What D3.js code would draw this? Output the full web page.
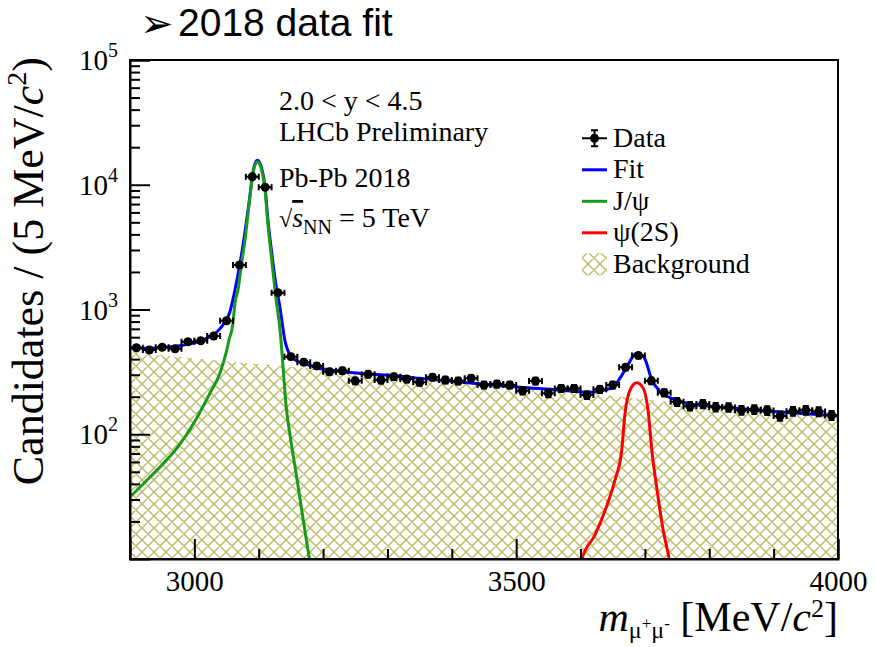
<!DOCTYPE html>
<meta charset="utf-8">
<head>
    <meta charset="UTF-8">
    <title>2018 data fit</title>
    <style>
      body { margin: 0; background: #fff; }
      svg text { font-family: "Liberation Serif", "DejaVu Serif", serif; fill: #000; }
    </style>
</head>
<body>
<script src="https://d3js.org/d3.v7.min.js"></script>

<div id="chart"></div>
<script>

    // bin centres (20 MeV bins) and candidates
    const binCenters = [2910, 2930, 2950, 2970, 2990, 3010, 3030, 3050, 3070, 3090,
                        3110, 3130, 3150, 3170, 3190, 3210, 3230, 3250, 3270, 3290,
                        3310, 3330, 3350, 3370, 3390, 3410, 3430, 3450, 3470, 3490,
                        3510, 3530, 3550, 3570, 3590, 3610, 3630, 3650, 3670, 3690,
                        3710, 3730, 3750, 3770, 3790, 3810, 3830, 3850, 3870, 3890,
                        3910, 3930, 3950, 3970, 3990]
    const counts = [494, 473, 498, 485, 552, 562, 613, 813, 2275, 11600,
                    9550, 1365, 419, 378, 353, 317, 323, 268, 302, 272,
                    289, 277, 261, 286, 272, 267, 281, 248, 253, 248,
                    223, 267, 213, 233, 233, 206, 229, 248, 344, 427,
                    268, 215, 182, 168, 175, 165, 164, 156, 158, 155,
                    140, 153, 156, 152, 142]
    const binHalfWidth = 10

    // fit components, [mass, candidates]
    const fitCurve = [[2900,491],[2920,489],[2940,492],[2960,500],[2980,515],[3000,540],[3020,590],
                      [3035,660],[3045,760],[3055,950],[3062,1350],[3070,2200],[3078,3950],[3085,7200],
                      [3091.6,13100],[3097.8,15700],[3104.6,13500],[3110,9400],[3114.4,5150],[3120.2,2850],
                      [3126.4,1620],[3133,1040],[3140.8,560],[3148.6,432],[3160,385],[3169.3,370],
                      [3195,338],[3247,311],[3299,298],[3350,281],[3433,256],[3506,238],[3568,226],
                      [3599,219],[3615,217],[3640,228],[3651,240],[3661,280],[3672,348],[3687,446],
                      [3698,419],[3711,272],[3724,219],[3749,188],[3780,172],[3800,168],[3850,160],
                      [3900,152],[3950,146],[4000,141]]
    const jpsiCurve = [[2900,31.4],[2925,42.2],[2950,57],[2975,80],[3000,125],[3024.3,214],
                       [3039.9,310],[3050.3,473],[3053.8,570],[3059.6,751],[3063.1,1127],[3067.8,1432],
                       [3073.6,2402],[3078.7,3607],[3084.9,6886],[3091.6,12750],[3097.8,15310],
                       [3104.6,13120],[3109.8,9070],[3114.4,4750],[3120.2,2495],[3126.4,1268],
                       [3133.1,685],[3137.7,352],[3142.4,171],[3150.1,88],[3160.4,40.6],[3170.4,18.7],
                       [3178.9,10],[3185,7]]
    const psi2sCurve = [[3596,7],[3602.3,10],[3622.5,15.6],[3641.2,27.1],[3653.6,43],[3664,74.8],
                        [3669.1,147],[3676.9,226],[3687.3,259],[3697.6,233],[3705.4,147],[3710.7,74.8],
                        [3718.9,35.7],[3728.3,17.1],[3737.6,10],[3742,7]]
    const bkgCurve = [[2900,458],[3000,405],[3100,365],[3200,332],[3300,296],[3400,264],
                      [3500,238],[3600,215],[3700,190],[3800,167],[3900,150],[4000,139]]

    const xMajor = [3000, 3500, 4000]
    const xMinor = [3100, 3200, 3300, 3400, 3600, 3700, 3800, 3900]
    const yMajor = [1e2, 1e3, 1e4, 1e5]
    const yExponents = ["2", "3", "4", "5"]

    const legendItems = [
      {label: "Data", kind: "data"},
      {label: "Fit", kind: "line", color: "#0000ff"},
      {label: "J/ψ", kind: "line", color: "#1a9a1a"},
      {label: "ψ(2S)", kind: "line", color: "#ff0000"},
      {label: "Background", kind: "hatch"}
    ]

    const margin = {top: 60, right: 38, bottom: 88, left: 130},
      width = 876 - margin.left - margin.right,
      height = 647 - margin.top - margin.bottom;

    const root = d3.select("#chart")
      .append("svg")
        .attr("width", 876)
        .attr("height", 647)
    const svg = root.append("g")
        .attr("transform", `translate(${margin.left},${margin.top})`);

    const defs = root.append("defs")
    defs.append("clipPath").attr("id", "plotclip")
      .append("rect").attr("width", width).attr("height", height)
    const pat = defs.append("pattern")
      .attr("id", "hatch")
      .attr("patternUnits", "userSpaceOnUse")
      .attr("width", 12).attr("height", 12)
    pat.append("path")
      .attr("d", "M0,0L12,12M12,0L0,12M-1,11L1,13M11,-1L13,1M-1,1L1,-1M11,13L13,11")
      .attr("stroke", "#9c9c22")
      .attr("stroke-opacity", 0.72)
      .attr("stroke-width", 1.3)

    const x = d3.scaleLinear().domain([2900, 4000]).range([0, width])
    const y = d3.scaleLog().domain([10, 1e5]).range([height, 0])

    const plot = svg.append("g").attr("clip-path", "url(#plotclip)")

    // background (hatched)
    plot.append("path")
      .datum(bkgCurve)
      .attr("fill", "url(#hatch)")
      .attr("d", d3.area()
        .x(d => x(d[0]))
        .y0(height)
        .y1(d => y(d[1]))
        .curve(d3.curveMonotoneX))

    const line = d3.line()
      .x(d => x(d[0]))
      .y(d => y(d[1]))
      .curve(d3.curveMonotoneX)

    plot.append("path").datum(fitCurve)
      .attr("fill", "none").attr("stroke", "#0000ff").attr("stroke-width", 3).attr("d", line)
    plot.append("path").datum(jpsiCurve)
      .attr("fill", "none").attr("stroke", "#1a9a1a").attr("stroke-width", 3).attr("d", line)
    plot.append("path").datum(psi2sCurve)
      .attr("fill", "none").attr("stroke", "#ff0000").attr("stroke-width", 3).attr("d", line)

    // data points with errors
    const pts = binCenters.map((m, i) => ({m: m, n: counts[i]}))
    const cap = 3
    const pg = plot.selectAll(".pt").data(pts).join("g").attr("class", "pt")
    pg.append("path")
      .attr("stroke", "#000").attr("stroke-width", 2).attr("fill", "none")
      .attr("d", d => {
        const cx = x(d.m), cy = y(d.n)
        const x0 = x(d.m - binHalfWidth), x1 = x(d.m + binHalfWidth)
        const e = Math.sqrt(d.n)
        const y0 = y(d.n + e), y1 = y(d.n - e)
        return `M${x0},${cy}H${x1}M${x0},${cy-cap}V${cy+cap}M${x1},${cy-cap}V${cy+cap}` +
               `M${cx},${y0}V${y1}M${cx-cap},${y0}H${cx+cap}M${cx-cap},${y1}H${cx+cap}`
      })
    pg.append("circle")
      .attr("cx", d => x(d.m)).attr("cy", d => y(d.n)).attr("r", 4.5).attr("fill", "#000")

    // axes (ROOT style, ticks inside)
    const xAxis = svg.append("g")
      .attr("transform", `translate(0, ${height})`)
      .call(d3.axisBottom(x).tickValues(xMajor).tickSize(-20).tickPadding(11).tickFormat(d3.format("d")))
    svg.append("g")
      .attr("transform", `translate(0, ${height})`)
      .call(d3.axisBottom(x).tickValues(xMinor).tickSize(-10).tickFormat(""))
      .select(".domain").remove()
    xAxis.selectAll("text").style("font-size", "29px").style("font-family", "Liberation Serif")

    const yAxis = svg.append("g")
      .call(d3.axisLeft(y).tickValues(yMajor).tickSize(-20).tickFormat(""))
    svg.append("g")
      .call(d3.axisLeft(y).tickValues(y.ticks().filter(v => !yMajor.includes(v) && v !== 10)).tickSize(-10).tickFormat(""))
      .select(".domain").remove()
    svg.selectAll(".tick line").attr("stroke-width", 2)
    svg.selectAll(".domain").attr("stroke-width", 2)

    yMajor.forEach((v, i) => {
      const t = svg.append("text")
        .attr("x", -12).attr("y", y(v) + 10)
        .attr("text-anchor", "end")
        .style("font-size", "29px")
      t.append("tspan").text("10")
      t.append("tspan").attr("dy", -13).style("font-size", "20px").text(yExponents[i])
    })

    // frame
    svg.append("rect")
      .attr("width", width).attr("height", height)
      .attr("fill", "none").attr("stroke", "#000").attr("stroke-width", 2)

    // axis titles
    const yt = root.append("text")
      .attr("transform", "translate(43, 57) rotate(-90)")
      .attr("text-anchor", "end")
      .style("font-size", "44px")
    yt.append("tspan").text("Candidates / (5 MeV/")
    yt.append("tspan").style("font-style", "italic").text("c")
    yt.append("tspan").attr("dy", -17).style("font-size", "28px").text("2")
    yt.append("tspan").attr("dy", 17).text(")")

    const xt = root.append("text")
      .attr("x", 838).attr("y", 631)
      .attr("text-anchor", "end")
      .style("font-size", "42px")
    xt.append("tspan").style("font-style", "italic").text("m")
    xt.append("tspan").attr("dy", 7).style("font-size", "24px").text("μ")
    xt.append("tspan").attr("dy", -9).style("font-size", "17px").text("+")
    xt.append("tspan").attr("dy", 9).style("font-size", "24px").text("μ")
    xt.append("tspan").attr("dy", -9).style("font-size", "17px").text("-")
    xt.append("tspan").attr("dy", 2).text(" [MeV/")
    xt.append("tspan").style("font-style", "italic").text("c")
    xt.append("tspan").attr("dy", -14).style("font-size", "26px").text("2")
    xt.append("tspan").attr("dy", 14).text("]")

    // annotations
    const notes = [["2.0 < y < 4.5", 110], ["LHCb Preliminary", 141], ["Pb-Pb 2018", 187]]
    notes.forEach(n => {
      root.append("text").attr("x", 279).attr("y", n[1]).style("font-size", "28px").text(n[0])
    })
    const sq = root.append("text").attr("x", 279).attr("y", 227).style("font-size", "28px")
    sq.append("tspan").style("font-size", "24px").text("√")
    sq.append("tspan").style("font-style", "italic").style("text-decoration", "overline").text("s")
    sq.append("tspan").attr("dy", 7).style("font-size", "20px").text("NN")
    sq.append("tspan").attr("dy", -7).text(" = 5 TeV")

    // legend
    legendItems.forEach((item, i) => {
      const cy = 138.3 + 31.5 * i
      const g = root.append("g")
      if (item.kind === "data") {
        g.append("path").attr("stroke", "#000").attr("stroke-width", 2).attr("fill", "none")
          .attr("d", `M582,${cy}H607M594.5,${cy-8}V${cy+8}M591,${cy-8}H598M591,${cy+8}H598`)
        g.append("circle").attr("cx", 594.5).attr("cy", cy).attr("r", 4.5).attr("fill", "#000")
      } else if (item.kind === "line") {
        g.append("line").attr("x1", 582).attr("x2", 607).attr("y1", cy).attr("y2", cy)
          .attr("stroke", item.color).attr("stroke-width", 3)
      } else {
        g.append("rect").attr("x", 582).attr("y", cy - 11).attr("width", 25).attr("height", 22)
          .attr("fill", "url(#hatch)")
      }
      g.append("text").attr("x", 613).attr("y", cy + 8.5).style("font-size", "28px").text(item.label)
    })

    // slide title
    const title = root.append("text").attr("x", 140).attr("y", 36)
      .style("font-family", "Liberation Sans, Arial, sans-serif").style("font-size", "39px")
    title.append("tspan").attr("dy", 1).style("font-family", "DejaVu Sans").style("font-size", "40px").text("➢")
    title.append("tspan").attr("x", 178).attr("dy", -1).text("2018 data fit")
</script>
</body>
